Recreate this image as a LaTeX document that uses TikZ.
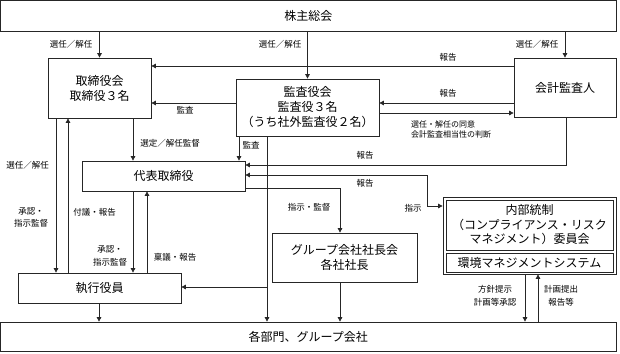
\documentclass[tikz,border=0pt]{standalone}
\usepackage{fontspec}
\setmainfont{Noto Sans CJK JP}
\usetikzlibrary{arrows.meta}
\begin{document}
\begin{tikzpicture}[x=1pt,y=-1pt,
  box/.style={draw=black!85,line width=0.75pt,inner sep=0pt,align=center,
    font=\fontsize{12}{15}\selectfont},
  lab/.style={inner sep=0pt,align=center,font=\fontsize{8.5}{12.5}\selectfont},
  conn/.style={draw=black!85,line width=0.75pt},
  arr/.style={conn,-{Triangle[length=4.5pt,width=4.5pt]}},
  arrb/.style={conn,{Triangle[length=4.5pt,width=4.5pt]}-{Triangle[length=4.5pt,width=4.5pt]}}]
\useasboundingbox (0,0) rectangle (620,353);
% boxes
\node[box,minimum width=615.5pt,minimum height=31pt] (kabu) at (308.25,15.5) {株主総会};
\node[box,minimum width=103pt,minimum height=60pt] (tori) at (99.5,88) {取締役会\\取締役３名};
\node[box,minimum width=143pt,minimum height=57pt] (kansa) at (307.5,107.5) {監査役会\\監査役３名\\（うち社外監査役２名）};
\node[box,minimum width=102pt,minimum height=59pt] (kaikei) at (565,87.5) {会計監査人};
\node[box,minimum width=163pt,minimum height=30pt] (dai) at (163.5,176) {代表取締役};
\node[box,minimum width=163pt,minimum height=30pt] (shikko) at (99.5,288) {執行役員};
\node[box,minimum width=145pt,minimum height=49pt] (group) at (344.5,257.5) {グループ会社社長会\\各社社長};
\node[box,minimum width=173pt,minimum height=77pt] (naibu) at (529.5,235.5) {};
\node[box,minimum width=167pt,minimum height=50pt,font=\fontsize{12}{14.5}\selectfont] (iin) at (529.5,225) {内部統制\\（コンプライアンス・リスク\\マネジメント）委員会};
\node[box,minimum width=167pt,minimum height=19pt] (kankyo) at (529.5,262.5) {環境マネジメントシステム};
\node[box,minimum width=615.5pt,minimum height=29pt] (kakubu) at (308.25,336.5) {各部門、グループ会社};
% shareholders' meeting
\draw[arr] (tori.north |- kabu.south) -- (tori.north);
\node[lab] (l1) at (71,44) {選任／解任};
\draw[arr] (kansa.north |- kabu.south) -- (kansa.north);
\node[lab] (l2) at (280,44) {選任／解任};
\draw[arr] (kaikei.north |- kabu.south) -- (kaikei.north);
\node[lab] (l3) at (537,44) {選任／解任};
% auditors
\draw[arr] (kaikei.west |- 0,66) -- (tori.east |- 0,66);
\node[lab] (l4) at (448,57) {報告};
\draw[arr] (kansa.west |- 0,103) -- (tori.east |- 0,103);
\node[lab] (l5) at (185,110) {監査};
\draw[arr] (kaikei.west |- 0,103) -- (kansa.east |- 0,103);
\node[lab] (l6) at (448,93) {報告};
\draw[arr] (kansa.east |- 0,113) -- (kaikei.west |- 0,113);
\node[lab,align=left,anchor=west,font=\fontsize{8}{10}\selectfont] (l7) at (411,129) {選任・解任の同意\\会計監査相当性の判断};
\draw[arr] (kaikei.south -| 566,0) -- (566,165) -- (dai.east |- 0,165);
\node[lab] (l8) at (365,155) {報告};
% to representative director
\draw[arr] (tori.south -| 133,0) -- (dai.north -| 133,0);
\node[lab] (l9) at (170,143) {選定／解任監督};
\draw[arr] (kansa.south -| 239,0) -- (dai.north -| 239,0);
\node[lab] (l10) at (251,145) {監査};
\draw[arr] (kansa.south -| 267,0) -- (kakubu.north -| 267,0);
\draw[arr] (267,287) -- (shikko.east |- 0,287);
\draw[arr] (dai.east |- 0,188) -- (340,188) -- (group.north -| 340,0);
\node[lab] (l11) at (309,207) {指示・監督};
\draw[arrb] (dai.east |- 0,175) -- (427,175) -- (427,206) -- (naibu.west |- 0,206);
\node[lab] (l12) at (365,183) {報告};
\node[lab] (l13) at (413,208) {指示};
% executive officers
\draw[arr] (tori.south -| 56,0) -- (shikko.north -| 56,0);
\node[lab] (l14) at (27.5,165) {選任／解任};
\node[lab] (l15) at (31,217.5) {承認・\\指示監督};
\draw[arr] (shikko.north -| 68,0) -- (tori.south -| 68,0);
\node[lab] (l16) at (94.5,212) {付議・報告};
\draw[arr] (dai.south -| 133,0) -- (shikko.north -| 133,0);
\node[lab] (l17) at (110,256) {承認・\\指示監督};
\draw[arr] (shikko.north -| 147,0) -- (dai.south -| 147,0);
\node[lab] (l18) at (175,257) {稟議・報告};
\draw[arr] (shikko.south -| 99,0) -- (kakubu.north -| 99,0);
\draw[arr] (group.south -| 340,0) -- (kakubu.north -| 340,0);
% internal control
\draw[arr] (naibu.south -| 525,0) -- (kakubu.north -| 525,0);
\node[lab] (l19) at (495,296) {方針提示\\計画等承認};
\draw[arr] (kakubu.north -| 538,0) -- (naibu.south -| 538,0);
\node[lab] (l20) at (561,296) {計画提出\\報告等};
\end{tikzpicture}
\end{document}
